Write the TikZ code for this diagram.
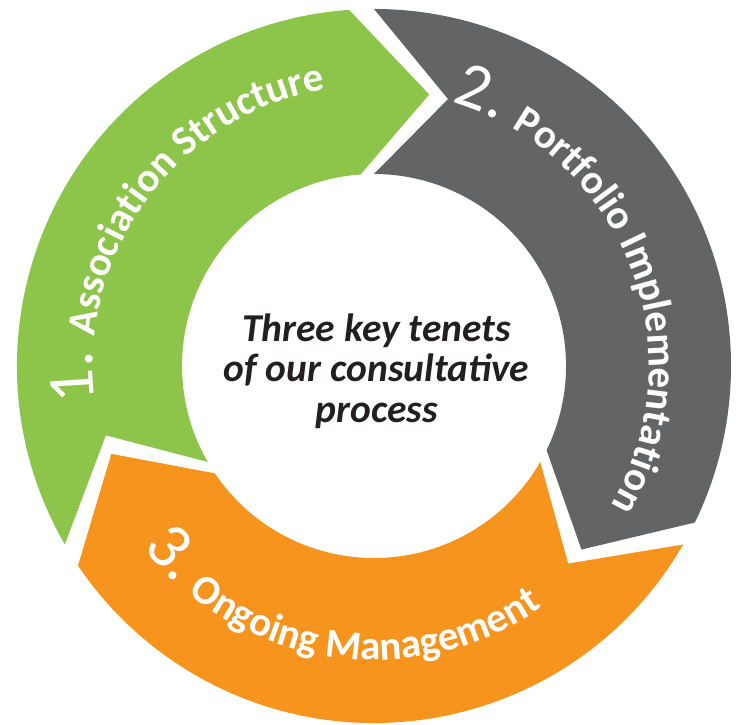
\documentclass[tikz,border=0pt]{standalone}
\usepackage{fontspec}
\setmainfont{Carlito}
\usetikzlibrary{decorations.text}
\definecolor{cgreen}{HTML}{8DC44A}
\definecolor{cgray}{HTML}{636466}
\definecolor{corange}{HTML}{F7941E}
\definecolor{ctext}{HTML}{231F20}
\begin{document}
\begin{tikzpicture}[x=1pt,y=1pt,
  ringtext/.style={decorate, decoration={text along path, text align=center, text color=white}},
  centertext/.style={align=center, inner sep=0pt, text=ctext, font=\fontsize{39.5}{40.5}\selectfont\bfseries\itshape}
]
\useasboundingbox (0,0) rectangle (739,725);
\coordinate (c) at (374,359);
\begin{scope}[shift={(c)}]
  % green segment
  \fill[cgreen] (210:357pt) arc[start angle=210,end angle=94,radius=357pt] -- (78.5:277pt)
     -- (94:192pt) arc[start angle=94,end angle=210,radius=192pt] -- (194.5:277pt) -- cycle;
  % gray segment
  \fill[cgray] (90:357pt) arc[start angle=90,end angle=-26,radius=357pt] -- (-41.5:277pt)
     -- (-26:192pt) arc[start angle=-26,end angle=90,radius=192pt] -- (74.5:277pt) -- cycle;
  % orange segment
  \fill[corange] (-30:357pt) arc[start angle=-30,end angle=-146,radius=357pt] -- (-161.5:277pt)
     -- (-146:192pt) arc[start angle=-146,end angle=-30,radius=192pt] -- (-45.5:277pt) -- cycle;
  % ring labels
  \path[ringtext, decoration={text={|\fontsize{66}{66}\selectfont|1. |\fontsize{41}{41}\selectfont\bfseries|Association Structure}}]
     (205:281pt) arc[start angle=205,end angle=82,radius=281pt];
  \path[ringtext, decoration={text={|\fontsize{66}{66}\selectfont|2. |\fontsize{41}{41}\selectfont\bfseries|Portfolio Implementation}}]
     (85:275pt) arc[start angle=85,end angle=-42,radius=275pt];
  \path[ringtext, decoration={text={|\fontsize{66}{66}\selectfont|3. |\fontsize{41}{41}\selectfont\bfseries|Ongoing Management}}]
     (195:294pt) arc[start angle=195,end angle=328,radius=294pt];
\end{scope}
\node[centertext] (center) at (376.5,354) {Three key tenets\\of our consultative\\process};
\end{tikzpicture}
\end{document}
